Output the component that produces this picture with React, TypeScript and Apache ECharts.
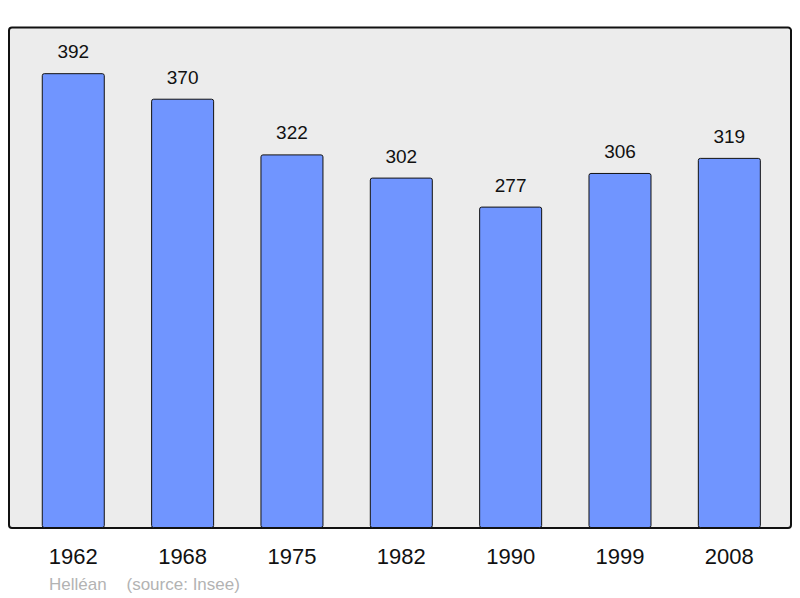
import React, { useEffect, useRef } from "react";
import * as echarts from "echarts";

const years = ["1962", "1968", "1975", "1982", "1990", "1999", "2008"];
const population = [392, 370, 322, 302, 277, 306, 319];
const commune = "Helléan";
const source = "(source: Insee)";

export default function App() {
  const ref = useRef<HTMLDivElement>(null);
  useEffect(() => {
    const chart = echarts.init(ref.current!, undefined, { renderer: "svg" });
    chart.setOption({
      animation: false,
      textStyle: { fontFamily: "Liberation Sans, Arial, sans-serif" },
      graphic: [
        {
          type: "rect",
          z: -10,
          shape: { x: 9, y: 27.5, width: 782, height: 500.5, r: 3 },
          style: { fill: "#ececec", stroke: "#111", lineWidth: 2 },
        },
        {
          type: "text",
          x: 49,
          y: 584,
          style: {
            text: commune,
            fill: "#b3b3b3",
            font: "17px 'Liberation Sans', Arial, sans-serif",
            verticalAlign: "middle",
          },
        },
        {
          type: "text",
          x: 126.5,
          y: 584,
          style: {
            text: source,
            fill: "#b3b3b3",
            font: "17px 'Liberation Sans', Arial, sans-serif",
            verticalAlign: "middle",
          },
        },
      ],
      grid: { left: 18.6, right: 16, top: 27, bottom: 70 },
      xAxis: {
        type: "category",
        data: years,
        axisLine: { show: false },
        axisTick: { show: false },
        axisLabel: { color: "#111", fontSize: 22, margin: 17 },
      },
      yAxis: {
        type: "value",
        min: 0,
        max: 431.8,
        show: false,
        splitLine: { show: false },
      },
      series: [
        {
          type: "bar",
          data: population,
          barWidth: 63,
          itemStyle: { color: "#7095ff", borderColor: "#111", borderWidth: 1, borderRadius: 2 },
          label: { show: true, position: "top", distance: 12, color: "#111", fontSize: 19 },
        },
      ],
    });
    return () => chart.dispose();
  }, []);
  return <div ref={ref} style={{ width: 800, height: 598, position: "absolute", left: 0, top: 0 }} />;
}
